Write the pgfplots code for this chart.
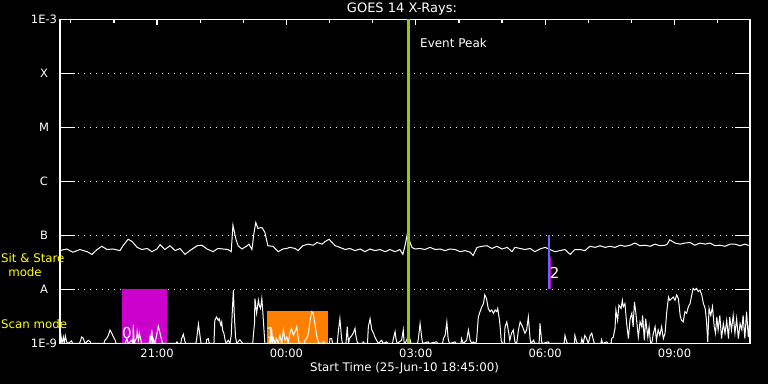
\documentclass[border=0pt]{standalone}
\usepackage{pgfplots}
\pgfplotsset{compat=1.18}
\usepackage{fontspec}
\setmainfont{DejaVu Sans}
\definecolor{mag}{RGB}{204,0,204}
\definecolor{org}{RGB}{255,128,0}
\definecolor{grn}{RGB}{153,204,0}
\definecolor{blu}{RGB}{102,102,255}
\definecolor{ylw}{RGB}{255,255,0}
\begin{document}
\begin{tikzpicture}[x=1bp,y=1bp]
\fill[black] (0,0) rectangle (768,384);
\begin{axis}[
  at={(60bp,41bp)}, anchor=south west,
  width=690bp, height=324bp, scale only axis,
  xmin=0, xmax=16, ymin=-9, ymax=-3,
  axis line style={white, line width=1.2bp},
  clip=true,
  xtick={2.25,5.25,8.25,11.25,14.25},
  xticklabels={21:00,00:00,03:00,06:00,09:00},
  minor xtick={0.25,1.25,3.25,4.25,6.25,7.25,9.25,10.25,12.25,13.25,15.25},
  xtick pos=right, xticklabel pos=left,
  xtick style={white, line width=1.2bp, /pgfplots/major tick length=6bp, /pgfplots/minor tick length=3.5bp},
  ytick={-9,-8,-7,-6,-5,-4,-3},
  yticklabels={1E-9,A,B,C,M,X,1E-3},
  ytick pos=both, yticklabel pos=left,
  ytick style={white, line width=1.2bp, /pgfplots/major tick length=15bp},
  tick align=inside,
  ymajorgrids, grid style={white, line width=1.1bp, dash pattern=on 1.1bp off 4.9bp},
  ticklabel style={white, font=\fontsize{11.5bp}{13bp}\selectfont},
  yticklabel style={anchor=center, xshift=-16bp},
  xticklabel style={yshift=-2bp},
]
% observing-mode boxes
\addplot[draw=none, fill=mag] coordinates {(1.44,-9) (1.44,-8) (2.47,-8) (2.47,-9)} -- cycle;
\addplot[draw=none, fill=org] coordinates {(4.81,-9) (4.81,-8.39) (6.21,-8.39) (6.21,-9)} -- cycle;
% lower (scan) channel
\addplot[white, line width=1bp] coordinates {
(0,-9) (0.023,-8.86) (0.046,-9) (0.077,-8.88) (0.10,-9) (0.124,-8.86) (0.155,-8.97) (0.19,-9)
(0.27,-8.95) (0.29,-9) (0.45,-9) (0.48,-8.94) (0.50,-8.88) (0.53,-8.89) (0.56,-8.95) (0.58,-9)
(0.66,-8.94) (0.70,-8.97) (0.72,-9) (1.02,-9) (1.04,-8.94) (1.08,-8.91) (1.12,-8.85) (1.16,-8.75)
(1.20,-8.81) (1.24,-8.88) (1.28,-8.94) (1.30,-9) (1.51,-9) (1.55,-8.91) (1.58,-9) (1.66,-8.94)
(1.69,-9) (1.70,-8.66) (1.72,-9) (1.78,-8.88) (1.79,-8.78) (1.82,-8.94) (1.84,-8.81) (1.87,-8.91)
(1.89,-9) (2.07,-9) (2.09,-8.88) (2.11,-9) (2.13,-8.75) (2.15,-9) (2.16,-8.91) (2.20,-9)
(2.24,-8.85) (2.28,-8.68) (2.32,-8.81) (2.36,-8.94) (2.38,-9) (2.69,-9) (2.71,-8.97) (2.74,-9)
(2.80,-9) (2.82,-8.91) (2.86,-8.83) (2.90,-8.97) (2.92,-9) (3.15,-9) (3.17,-8.91) (3.21,-8.64)
(3.25,-8.88) (3.27,-9) (3.39,-9) (3.40,-8.93) (3.44,-8.91) (3.46,-9) (3.57,-9) (3.59,-8.57)
(3.63,-8.51) (3.67,-8.57) (3.69,-8.54) (3.73,-8.66) (3.75,-8.60) (3.77,-8.75) (3.80,-8.81) (3.83,-8.94)
(3.85,-9) (3.90,-8.94) (3.94,-9) (3.97,-8.85) (4.00,-8.32) (4.02,-8.01) (4.04,-8.44) (4.07,-8.88)
(4.10,-9) (4.17,-8.93) (4.21,-8.97) (4.24,-9) (4.47,-9) (4.48,-8.88) (4.51,-8.63) (4.52,-8.17)
(4.56,-8.44) (4.60,-8.20) (4.62,-8.29) (4.65,-8.35) (4.68,-8.17) (4.70,-8.38) (4.73,-8.75) (4.75,-9)
(4.85,-9) (4.87,-8.91) (4.89,-9) (4.91,-8.75) (4.93,-9) (4.95,-8.91) (4.99,-9) (5.02,-8.91)
(5.06,-9) (5.10,-8.85) (5.14,-9) (5.18,-8.75) (5.22,-8.94) (5.26,-8.88) (5.29,-9) (5.33,-8.81)
(5.37,-8.72) (5.41,-8.85) (5.45,-8.78) (5.49,-8.69) (5.53,-8.94) (5.55,-9) (5.67,-9) (5.68,-8.94)
(5.72,-8.91) (5.76,-8.81) (5.80,-8.57) (5.84,-8.41) (5.87,-8.44) (5.91,-8.63) (5.95,-8.85) (5.99,-8.97)
(6.01,-9) (6.09,-9) (6.11,-8.97) (6.13,-9) (6.25,-9) (6.26,-8.91) (6.30,-8.91) (6.32,-9)
(6.43,-9) (6.45,-8.81) (6.49,-8.54) (6.53,-8.91) (6.55,-9) (6.63,-9) (6.65,-8.81) (6.66,-8.69)
(6.69,-9) (6.71,-8.91) (6.76,-8.86) (6.80,-8.81) (6.84,-8.72) (6.86,-8.85) (6.89,-8.97) (6.92,-9)
(7.02,-9) (7.03,-8.97) (7.06,-9) (7.13,-9) (7.15,-8.69) (7.19,-8.54) (7.23,-8.75) (7.27,-8.81)
(7.30,-8.88) (7.34,-8.94) (7.38,-9) (7.46,-8.94) (7.50,-9) (7.57,-8.97) (7.61,-9) (7.71,-9)
(7.73,-8.91) (7.77,-8.78) (7.79,-8.91) (7.82,-9) (7.92,-8.94) (7.96,-8.75) (7.98,-9)
(8.00,-9) (8.09,-8.85) (8.12,-8.94) (8.14,-9) (8.29,-9) (8.31,-8.91) (8.35,-8.63) (8.39,-8.91)
(8.41,-9) (8.54,-8.97) (8.56,-9) (8.73,-8.97) (8.76,-9) (8.87,-9) (8.89,-8.91) (8.93,-8.85)
(8.97,-8.60) (9.00,-8.91) (9.03,-9) (9.16,-8.97) (9.18,-9) (9.30,-9) (9.31,-8.91) (9.35,-9)
(9.43,-8.94) (9.47,-8.75) (9.51,-8.94) (9.55,-9) (9.58,-8.97) (9.64,-9) (9.66,-8.94) (9.70,-8.51)
(9.74,-8.41) (9.78,-8.32) (9.82,-8.26) (9.85,-8.10) (9.89,-8.17) (9.93,-8.35) (9.97,-8.41) (10.01,-8.38)
(10.05,-8.44) (10.09,-8.38) (10.13,-8.41) (10.15,-8.35) (10.18,-8.51) (10.20,-8.63) (10.23,-8.94) (10.26,-9)
(10.30,-9) (10.32,-8.69) (10.36,-8.60) (10.40,-8.78) (10.43,-8.94) (10.47,-8.81) (10.51,-8.75) (10.55,-8.97)
(10.59,-9) (10.63,-8.75) (10.67,-8.60) (10.71,-8.66) (10.74,-8.72) (10.78,-8.81) (10.82,-8.75) (10.86,-8.51)
(10.90,-8.91) (10.92,-9) (10.98,-8.94) (11.01,-9) (11.11,-9) (11.13,-8.63) (11.17,-8.97) (11.19,-9)
(11.32,-8.97) (11.35,-9) (11.69,-9) (11.71,-8.85) (11.75,-8.97) (11.77,-9) (11.93,-9) (11.94,-8.85)
(11.98,-8.97) (12.00,-9) (12.08,-9) (12.10,-8.91) (12.13,-9) (12.17,-8.85) (12.21,-8.91) (12.25,-9)
(12.29,-8.86) (12.33,-8.81) (12.37,-8.94) (12.39,-9) (12.54,-9) (12.56,-8.93) (12.58,-9) (12.68,-8.97)
(12.70,-9) (12.78,-9) (12.79,-8.91) (12.83,-8.88) (12.87,-8.72) (12.89,-8.38) (12.93,-8.57) (12.96,-8.29)
(13.01,-8.35) (13.04,-8.20) (13.06,-8.32) (13.10,-8.26) (13.14,-8.63) (13.18,-8.91) (13.22,-8.54) (13.26,-8.44)
(13.29,-8.69) (13.32,-8.23) (13.35,-8.41) (13.37,-8.57) (13.41,-8.88) (13.45,-8.60) (13.49,-8.69) (13.51,-8.48)
(13.55,-8.94) (13.58,-8.54) (13.63,-8.88) (13.66,-8.69) (13.69,-8.97) (13.72,-9) (13.76,-8.81) (13.80,-8.69)
(13.83,-8.94) (13.87,-8.75) (13.91,-8.85) (13.95,-8.69) (13.99,-8.91) (14.03,-8.81) (14.07,-8.41) (14.11,-8.14)
(14.14,-8.20) (14.18,-8.17) (14.22,-8.14) (14.26,-8.20) (14.30,-8.10) (14.34,-8.17) (14.38,-8.48) (14.41,-8.57)
(14.45,-8.60) (14.49,-8.41) (14.53,-8.44) (14.57,-8.32) (14.61,-8.26) (14.65,-8.10) (14.68,-7.98) (14.72,-8.01)
(14.76,-7.98) (14.80,-8.04) (14.84,-8.01) (14.88,-8.10) (14.92,-8.26) (14.96,-8.35) (14.99,-8.57) (15.02,-8.97)
(15.05,-8.35) (15.09,-8.48) (15.13,-8.32) (15.17,-8.69) (15.20,-8.81) (15.23,-8.51) (15.26,-8.75) (15.30,-8.48)
(15.34,-8.91) (15.38,-8.63) (15.42,-8.81) (15.46,-8.57) (15.50,-8.91) (15.53,-8.51) (15.57,-8.75) (15.61,-8.48)
(15.65,-8.81) (15.69,-8.54) (15.73,-8.91) (15.77,-8.63) (15.81,-8.75) (15.84,-8.48) (15.88,-8.91) (15.92,-8.41)
(15.96,-8.88) (16.00,-8.51)
};
% upper (sit & stare) channel
\addplot[white, line width=1bp] coordinates {
(0,-7.28) (0.155,-7.25) (0.30,-7.31) (0.46,-7.26) (0.63,-7.30) (0.74,-7.35) (0.86,-7.26) (0.97,-7.20)
(1.09,-7.26) (1.23,-7.25) (1.39,-7.28) (1.46,-7.19) (1.58,-7.07) (1.67,-7.11) (1.79,-7.22) (1.90,-7.26)
(2.02,-7.24) (2.13,-7.30) (2.25,-7.25) (2.32,-7.17) (2.43,-7.26) (2.55,-7.19) (2.67,-7.28) (2.78,-7.24)
(2.90,-7.35) (3.01,-7.28) (3.18,-7.19) (3.29,-7.18) (3.41,-7.25) (3.55,-7.30) (3.66,-7.24) (3.78,-7.25)
(3.90,-7.26) (3.97,-7.30) (4.01,-6.81) (4.08,-7.07) (4.13,-7.19) (4.22,-7.25) (4.34,-7.19) (4.38,-7.16)
(4.45,-7.26) (4.50,-6.94) (4.54,-6.76) (4.59,-6.87) (4.68,-6.85) (4.75,-6.94) (4.82,-7.19) (4.94,-7.20)
(5.06,-7.30) (5.17,-7.25) (5.26,-7.24) (5.33,-7.22) (5.45,-7.24) (5.52,-7.28) (5.63,-7.19) (5.75,-7.16)
(5.87,-7.18) (5.96,-7.13) (6.08,-7.16) (6.15,-7.11) (6.24,-7.07) (6.31,-7.13) (6.38,-7.19) (6.49,-7.22)
(6.61,-7.26) (6.72,-7.24) (6.84,-7.28) (6.96,-7.25) (7.07,-7.30) (7.19,-7.25) (7.30,-7.28) (7.42,-7.26)
(7.54,-7.30) (7.65,-7.26) (7.77,-7.30) (7.88,-7.26) (7.95,-7.35) (8.00,-7.19) (8.05,-6.99) (8.09,-7.07)
(8.16,-7.22) (8.23,-7.25) (8.35,-7.24) (8.46,-7.26) (8.58,-7.22) (8.70,-7.26) (8.81,-7.25) (8.93,-7.28)
(9.04,-7.25) (9.16,-7.26) (9.28,-7.30) (9.39,-7.28) (9.51,-7.31) (9.58,-7.37) (9.67,-7.22) (9.79,-7.20)
(9.90,-7.19) (10.02,-7.24) (10.13,-7.20) (10.25,-7.25) (10.37,-7.22) (10.48,-7.30) (10.55,-7.22) (10.67,-7.24)
(10.78,-7.26) (10.90,-7.24) (11.01,-7.30) (11.13,-7.25) (11.25,-7.22) (11.36,-7.26) (11.48,-7.30) (11.59,-7.28)
(11.71,-7.26) (11.83,-7.35) (11.94,-7.26) (12.06,-7.26) (12.17,-7.28) (12.29,-7.20) (12.41,-7.22) (12.52,-7.19)
(12.64,-7.22) (12.75,-7.20) (12.87,-7.22) (12.99,-7.18) (13.10,-7.20) (13.22,-7.18) (13.33,-7.14) (13.45,-7.19)
(13.57,-7.18) (13.68,-7.20) (13.80,-7.16) (13.91,-7.19) (14.03,-7.18) (14.08,-7.16) (14.14,-7.08) (14.26,-7.14)
(14.38,-7.16) (14.49,-7.14) (14.61,-7.13) (14.72,-7.18) (14.84,-7.14) (14.96,-7.16) (15.07,-7.14) (15.19,-7.19)
(15.30,-7.18) (15.42,-7.20) (15.54,-7.16) (15.65,-7.16) (15.77,-7.19) (15.88,-7.16) (16.00,-7.19)
};
% event peak and mode-change markers
\addplot[grn, line width=2.2bp] coordinates {(8.08,-9) (8.08,-3)};
\addplot[blu, line width=1.8bp] coordinates {(11.33,-7) (11.33,-8)};
\addplot[mag, line width=1.6bp] coordinates {(11.37,-7.39) (11.37,-8)};
\node[white, anchor=west, font=\fontsize{12bp}{14bp}\selectfont] at (axis cs:8.27,-3.44) {Event Peak};
\node[white, font=\fontsize{15bp}{17bp}\selectfont] at (axis cs:1.55,-8.80) {0};
\node[white, font=\fontsize{15bp}{17bp}\selectfont] at (axis cs:4.89,-8.80) {1};
\node[white, font=\fontsize{15bp}{17bp}\selectfont] at (axis cs:11.47,-7.69) {2};
\end{axis}
\node[white, font=\fontsize{13bp}{15bp}\selectfont] at (402,375) {GOES 14 X-Rays:};
\node[white, font=\fontsize{11.8bp}{14bp}\selectfont] at (404.5,16) {Start Time (25-Jun-10 18:45:00)};
\node[ylw, anchor=west, inner sep=0pt, font=\fontsize{11.8bp}{13bp}\selectfont] at (1,126) {Sit \& Stare};
\node[ylw, font=\fontsize{11.8bp}{13bp}\selectfont] at (25,112.5) {mode};
\node[ylw, anchor=west, inner sep=0pt, font=\fontsize{11.8bp}{13bp}\selectfont] at (1,60.5) {Scan mode};
\end{tikzpicture}
\end{document}
